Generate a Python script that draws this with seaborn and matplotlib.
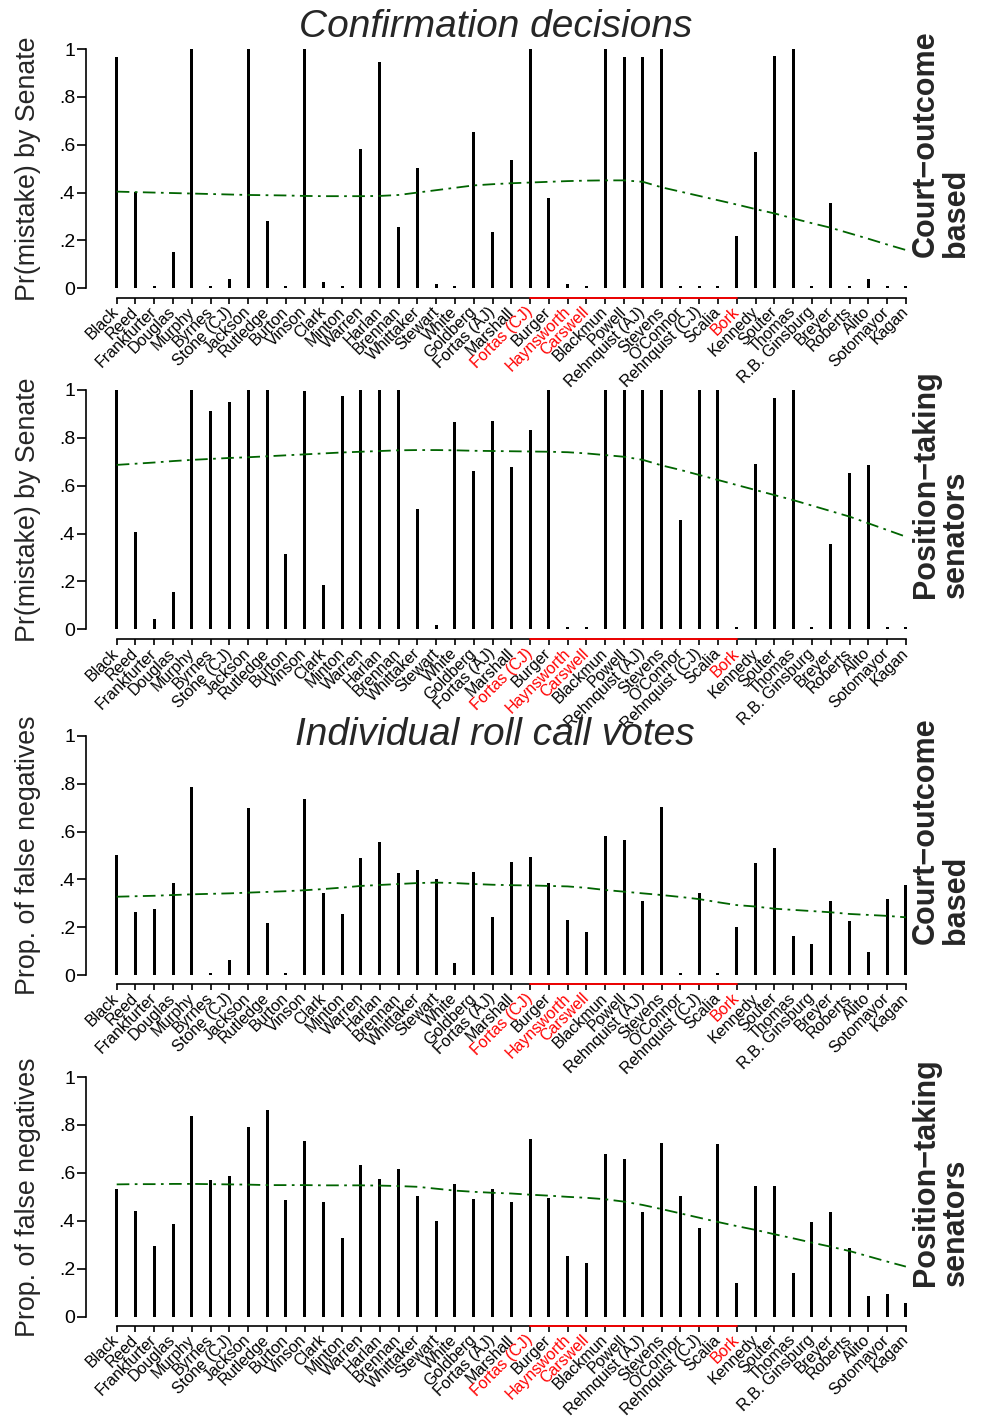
"""
Senate mistakes in Supreme Court confirmations: four stacked needle panels.
"""

import numpy as np
import pandas as pd
import matplotlib
matplotlib.use("Agg")
import matplotlib.pyplot as plt
import seaborn as sns

# Nominees in order of nomination
NOMINEES = [
    "Black", "Reed", "Frankfurter", "Douglas", "Murphy", "Byrnes", "Stone (CJ)",
    "Jackson", "Rutledge", "Burton", "Vinson", "Clark", "Minton", "Warren",
    "Harlan", "Brennan", "Whittaker", "Stewart", "White", "Goldberg",
    "Fortas (AJ)", "Marshall", "Fortas (CJ)", "Burger", "Haynsworth",
    "Carswell", "Blackmun", "Powell", "Rehnquist (AJ)", "Stevens", "O'Connor",
    "Rehnquist (CJ)", "Scalia", "Bork", "Kennedy", "Souter", "Thomas",
    "R.B. Ginsburg", "Breyer", "Roberts", "Alito", "Sotomayor", "Kagan",
]
REJECTED = ["Fortas (CJ)", "Haynsworth", "Carswell", "Bork"]

# Confirmation decisions, court-outcome based
CONF_COURT = [
    0.965, 0.404, 0.01, 0.153, 1.0, 0.01, 0.037, 1.0, 0.281, 0.01, 1.0, 0.027,
    0.01, 0.582, 0.944, 0.257, 0.501, 0.02, 0.01, 0.654, 0.234, 0.537, 1.0,
    0.376, 0.02, 0.01, 1.0, 0.968, 0.968, 1.0, 0.01, 0.01, 0.01, 0.22, 0.571,
    0.971, 1.0, 0.01, 0.356, 0.01, 0.039, 0.01, 0.01,
]
CONF_COURT_TREND = [
    0.404, 0.402, 0.400, 0.398, 0.396, 0.394, 0.392, 0.390, 0.389, 0.388,
    0.386, 0.385, 0.385, 0.385, 0.386, 0.390, 0.400, 0.410, 0.420, 0.430,
    0.435, 0.439, 0.442, 0.445, 0.448, 0.450, 0.451, 0.451, 0.445, 0.422,
    0.404, 0.386, 0.368, 0.350, 0.331, 0.313, 0.292, 0.272, 0.253, 0.230,
    0.207, 0.183, 0.160,
]

# Confirmation decisions, position-taking senators
CONF_POSITION = [
    1.0, 0.405, 0.043, 0.157, 1.0, 0.914, 0.951, 1.0, 1.0, 0.315, 0.997, 0.185,
    0.975, 1.0, 1.0, 1.0, 0.504, 0.02, 0.865, 0.660, 0.869, 0.677, 0.833, 1.0,
    0.01, 0.01, 1.0, 1.0, 1.0, 1.0, 0.458, 1.0, 1.0, 0.01, 0.692, 0.968, 1.0,
    0.01, 0.355, 0.652, 0.687, 0.01, 0.01,
]
CONF_POSITION_TREND = [
    0.687, 0.692, 0.697, 0.703, 0.708, 0.712, 0.716, 0.719, 0.723, 0.727,
    0.731, 0.735, 0.739, 0.742, 0.745, 0.748, 0.749, 0.749, 0.748, 0.746,
    0.745, 0.744, 0.743, 0.742, 0.740, 0.735, 0.728, 0.721, 0.708, 0.685,
    0.666, 0.645, 0.624, 0.603, 0.582, 0.561, 0.540, 0.517, 0.494, 0.471,
    0.443, 0.415, 0.387,
]

# Individual roll call votes, court-outcome based
ROLL_COURT = [
    0.502, 0.263, 0.275, 0.384, 0.787, 0.01, 0.064, 0.697, 0.220, 0.01, 0.736,
    0.345, 0.256, 0.491, 0.558, 0.426, 0.438, 0.403, 0.050, 0.431, 0.242,
    0.473, 0.495, 0.385, 0.232, 0.182, 0.581, 0.563, 0.309, 0.704, 0.01,
    0.344, 0.01, 0.202, 0.469, 0.530, 0.163, 0.132, 0.312, 0.228, 0.099,
    0.320, 0.377,
]
ROLL_COURT_TREND = [
    0.328, 0.330, 0.332, 0.335, 0.338, 0.340, 0.342, 0.345, 0.348, 0.351,
    0.355, 0.360, 0.366, 0.373, 0.377, 0.381, 0.385, 0.387, 0.385, 0.381,
    0.378, 0.376, 0.375, 0.373, 0.371, 0.365, 0.356, 0.349, 0.342, 0.335,
    0.327, 0.318, 0.305, 0.293, 0.287, 0.278, 0.273, 0.268, 0.263, 0.256,
    0.252, 0.248, 0.242,
]

# Individual roll call votes, position-taking senators
ROLL_POSITION = [
    0.531, 0.441, 0.296, 0.387, 0.837, 0.570, 0.587, 0.793, 0.862, 0.488,
    0.734, 0.477, 0.327, 0.631, 0.573, 0.618, 0.502, 0.401, 0.552, 0.492,
    0.534, 0.477, 0.743, 0.495, 0.252, 0.224, 0.680, 0.659, 0.437, 0.725,
    0.503, 0.370, 0.720, 0.139, 0.544, 0.544, 0.182, 0.394, 0.437, 0.285,
    0.086, 0.093, 0.056,
]
ROLL_POSITION_TREND = [
    0.552, 0.553, 0.553, 0.554, 0.554, 0.553, 0.552, 0.551, 0.549, 0.549,
    0.549, 0.548, 0.548, 0.548, 0.547, 0.545, 0.542, 0.534, 0.526, 0.521,
    0.517, 0.514, 0.509, 0.505, 0.500, 0.496, 0.490, 0.480, 0.466, 0.449,
    0.431, 0.413, 0.395, 0.378, 0.362, 0.344, 0.327, 0.309, 0.292, 0.274,
    0.252, 0.230, 0.209,
]

Y_TICKS = [0, 0.2, 0.4, 0.6, 0.8, 1.0]
Y_TICK_LABELS = ["0", ".2", ".4", ".6", ".8", "1"]

W, H = 987, 1420
LEFT_PX = 85.7
UNIT_X = 18.79
XLIM = (-1.65, 42.25)


def draw_panel(fig, values, trend, ylabel, side_label, top_px, zero_px, axis_px):
    """Draw one needle panel with its smoothed trend line."""
    unit_y = zero_px - top_px
    y_low = -(axis_px - zero_px) / unit_y
    y_high = 1.012
    ax_top = top_px - (y_high - 1.0) * unit_y
    width_px = (XLIM[1] - XLIM[0]) * UNIT_X
    ax = fig.add_axes([LEFT_PX / W, 1 - axis_px / H, width_px / W,
                       (axis_px - ax_top) / H])
    ax.patch.set_alpha(0)

    df = pd.DataFrame({"pos": np.arange(len(NOMINEES)), "value": values,
                       "trend": trend})
    sns.barplot(data=df, x="pos", y="value", native_scale=True, orient="x",
                width=0.16, color="black", saturation=1, errorbar=None,
                linewidth=0, ax=ax)
    sns.lineplot(data=df, x="pos", y="trend", color="#006400", lw=1.3,
                 linestyle=(0, (7, 3, 1.5, 3)), ax=ax)

    ax.set_xlim(*XLIM)
    ax.set_ylim(y_low, y_high)
    ax.set_xlabel("")
    ax.set_ylabel("")
    for s in ["top", "right"]:
        ax.spines[s].set_visible(False)
    ax.spines["left"].set_bounds(0, 1)
    ax.spines["bottom"].set_bounds(0, len(NOMINEES) - 1)
    for s in ["left", "bottom"]:
        ax.spines[s].set_linewidth(1.2)

    ax.set_yticks(Y_TICKS)
    ax.set_yticklabels(Y_TICK_LABELS, fontsize=14)
    ax.tick_params(axis="y", length=6.7, width=1.2, pad=1)
    ax.set_xticks(np.arange(len(NOMINEES)))
    ax.set_xticklabels(NOMINEES, rotation=45, ha="right", va="center",
                       rotation_mode="anchor", fontsize=11.5)
    ax.tick_params(axis="x", length=4.5, width=1.2, pad=4)

    # rejected nominees in red, with a red stretch of axis between them
    idx = [NOMINEES.index(n) for n in REJECTED]
    for lab, tick in zip(ax.get_xticklabels(), ax.xaxis.get_major_ticks()):
        if lab.get_text() in REJECTED:
            lab.set_color("red")
            tick.tick1line.set_color("red")
    ax.plot([min(idx), max(idx)], [0, 0], transform=ax.get_xaxis_transform(),
            color="red", lw=1.3, clip_on=False, zorder=5)

    # y label and right-hand label
    fig.text(28 / W, 1 - (top_px + zero_px) / 2 / H, ylabel, rotation=90,
             ha="center", va="center", fontsize=19.3)
    fig.text(941 / W, 1 - (zero_px - 31) / H, side_label, rotation=90,
             ha="center", va="bottom", multialignment="left", fontsize=22,
             fontweight="bold", linespacing=1.0)
    return ax


def main():
    sns.set_theme(style="ticks")
    plt.rcParams["font.family"] = ["Liberation Sans", "DejaVu Sans"]
    plt.rcParams["axes.edgecolor"] = "black"
    plt.rcParams["xtick.color"] = "black"
    plt.rcParams["ytick.color"] = "black"

    fig = plt.figure(figsize=(W / 100, H / 100), dpi=100)
    fig.patch.set_facecolor("white")

    court = "Court\u2212outcome\nbased"
    position = "Position\u2212taking\nsenators"
    draw_panel(fig, CONF_COURT, CONF_COURT_TREND, "Pr(mistake) by Senate",
               court, 49, 288.3, 297.7)
    draw_panel(fig, CONF_POSITION, CONF_POSITION_TREND, "Pr(mistake) by Senate",
               position, 390, 629.3, 639.3)
    draw_panel(fig, ROLL_COURT, ROLL_COURT_TREND, "Prop. of false negatives",
               court, 735.7, 975.3, 984)
    draw_panel(fig, ROLL_POSITION, ROLL_POSITION_TREND,
               "Prop. of false negatives", position, 1077, 1316.7, 1325.7)

    fig.text(496 / W, 1 - 36.7 / H, "Confirmation decisions", ha="center",
             va="baseline", fontsize=28, style="italic")
    fig.text(495 / W, 1 - 745 / H, "Individual roll call votes", ha="center",
             va="baseline", fontsize=28, style="italic")

    fig.savefig("out.png", dpi=100, facecolor="white")
    plt.close(fig)


if __name__ == "__main__":
    main()
